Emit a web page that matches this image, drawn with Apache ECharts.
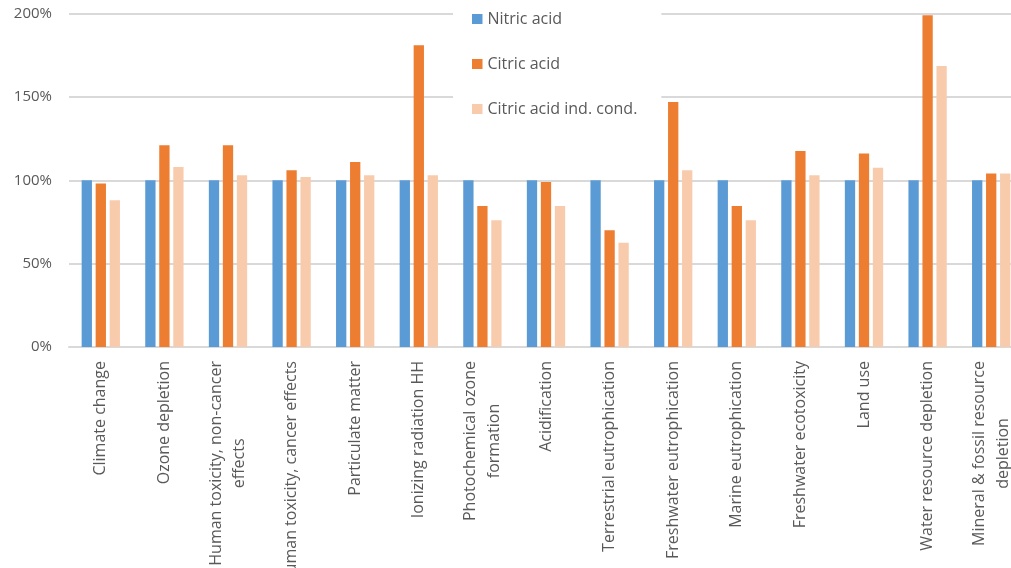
<!DOCTYPE html>
<html>
<head>
<meta charset="utf-8">
<script src="https://cdn.jsdelivr.net/npm/echarts@6/dist/echarts.min.js"></script>
<style>
  html, body { margin: 0; padding: 0; background: #fff; }
  #chart { width: 1011px; height: 568px; }
</style>
</head>
<body>
<div id="chart"></div>
<script>
// Impact categories (line breaks mark where long names wrap)
const categories = [
  "Climate change",
  "Ozone depletion",
  "Human toxicity, non-cancer\neffects",
  "Human toxicity, cancer effects",
  "Particulate matter",
  "Ionizing radiation HH",
  "Photochemical ozone\nformation",
  "Acidification",
  "Terrestrial eutrophication",
  "Freshwater eutrophication",
  "Marine eutrophication",
  "Freshwater ecotoxicity",
  "Land use",
  "Water resource depletion",
  "Mineral & fossil resource\ndepletion"
];

// Relative impacts, in percent of the nitric acid route
const nitricAcid = [100, 100, 100, 100, 100, 100, 100, 100, 100, 100, 100, 100, 100, 100, 100];
const citricAcid = [98, 121, 121, 106, 111, 181, 84.5, 99, 70, 147, 84.5, 117.5, 116, 199, 104];
const citricAcidIndCond = [88, 108, 103, 102, 103, 103, 76, 84.5, 62.5, 106, 76, 103, 107.5, 168.5, 104];

const seriesNames = ["Nitric acid", "Citric acid", "Citric acid ind. cond."];
const yTicks = { min: 0, max: 200, interval: 50 };

const textColor = '#595959';
const fontFamily = '"Open Sans", "Noto Sans", sans-serif';
const barColors = ['#5B9BD5', '#ED7D31', '#F8CBAD'];

const chart = echarts.init(document.getElementById('chart'), null, { renderer: 'canvas' });

const seriesData = [nitricAcid, citricAcid, citricAcidIndCond];

chart.setOption({
  animation: false,
  backgroundColor: '#ffffff',
  color: barColors,
  // plot area runs slightly past the right edge; long labels may run off the bottom
  grid: { left: 69, right: -12, top: 13.5, bottom: 221, containLabel: false, outerBoundsMode: 'none' },
  legend: {
    data: seriesNames,
    orient: 'vertical',
    left: 453,
    top: 0,
    padding: [9, 24, 10, 19],
    backgroundColor: '#ffffff',
    itemWidth: 10.5,
    itemHeight: 10,
    itemGap: 25,
    icon: 'rect',
    textStyle: { color: textColor, fontSize: 16, fontFamily: fontFamily, lineHeight: 20 }
  },
  xAxis: {
    type: 'category',
    data: categories,
    axisLine: { show: true, lineStyle: { color: '#D9D9D9', width: 2 } },
    axisTick: { show: false },
    axisLabel: {
      interval: 0,
      rotate: 90,
      margin: 14,
      color: textColor,
      fontSize: 16,
      fontFamily: fontFamily,
      formatter: function (v) {
        return v.split('\n').map(function (line) { return '{c|' + line + '}'; }).join('\n');
      },
      rich: {
        c: { align: 'center', color: textColor, fontSize: 16, fontFamily: fontFamily, lineHeight: 23.5 }
      }
    }
  },
  yAxis: {
    type: 'value',
    min: yTicks.min,
    max: yTicks.max,
    interval: yTicks.interval,
    axisLine: { show: false },
    axisTick: { show: false },
    axisLabel: {
      margin: 17,
      color: textColor,
      fontSize: 15,
      fontFamily: fontFamily,
      formatter: '{value}%'
    },
    splitLine: { lineStyle: { color: '#D9D9D9', width: 2 } }
  },
  series: seriesNames.map(function (name, i) {
    return {
      name: name,
      type: 'bar',
      data: seriesData[i],
      barWidth: 10.3,
      barGap: '36%',
      itemStyle: { color: barColors[i] }
    };
  })
});
</script>
</body>
</html>
